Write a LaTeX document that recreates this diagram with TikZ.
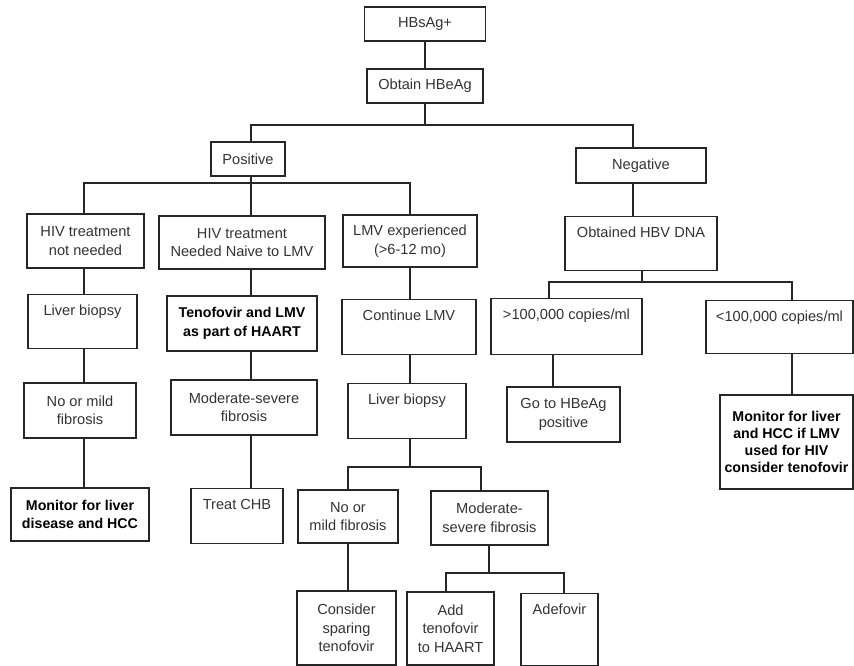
\documentclass[tikz,border=0pt]{standalone}
\usepackage{fontspec}
\setmainfont{Liberation Sans}
\begin{document}
\begin{tikzpicture}[x=1pt,y=-1pt,
  every node/.style={font=\fontsize{14.6}{18.5}\selectfont, text=black!80},
  box/.style={draw=black!85, line width=1.1pt, inner sep=0pt, align=center},
  cbox/.style 2 args={box, minimum width=#1, minimum height=#2},
  tbox/.style 2 args={box, anchor=north, minimum width=#1, text height=21pt, text depth=#2},
  strong/.style={font=\fontsize{14.2}{18.5}\selectfont\bfseries, text=black},
  link/.style={draw=black!85, line width=1.1pt}]
\fill[white] (0,0) rectangle (854,666);
\useasboundingbox (0,0) rectangle (854,666);

% column and bus positions
\coordinate (cA) at (84,0);
\coordinate (cB) at (251,0);
\coordinate (cC) at (410,0);
\coordinate (cE) at (348,0);
\coordinate (cF) at (481,0);
\coordinate (cH) at (446,0);
\coordinate (cI) at (564,0);
\coordinate (cJ) at (633,0);
\coordinate (cL) at (549,0);
\coordinate (cM) at (553,0);
\coordinate (cN) at (792,0);
\coordinate (busA) at (425,125);
\coordinate (busB) at (251,183);
\coordinate (busC) at (410,467);
\coordinate (busD) at (489,573);
\coordinate (busE) at (642,282);

% boxes
\node[cbox={121}{34}] (hbsag) at (425,24) {HBsAg+};
\node[cbox={116}{34}] (obtain) at (425,86) {Obtain HBeAg};
\node[cbox={74}{34}] (pos) at (248,159) {Positive};
\node[cbox={130}{35}] (neg) at (641,165.5) {Negative};

\node[cbox={117}{54}] (hiv1) at (85.5,241) {HIV treatment\\not needed};
\node[cbox={166}{53}] (hiv2) at (242,242.5) {HIV treatment\\Needed Naive to LMV};
\node[cbox={134}{52}] (lmv) at (410,241) {LMV experienced\\(>6-12 mo)};

\node[tbox={109}{33}] (lb1) at (82.5,294) {Liver biopsy};
\node[cbox={150}{55}, strong] (teno) at (242,323.5) {Tenofovir and LMV\\as part of HAART};
\node[tbox={134}{34}] (cont) at (409,299) {Continue LMV};

\node[cbox={112}{55}] (nm1) at (80,410.5) {No or mild\\fibrosis};
\node[cbox={146}{55}] (ms1) at (244,407.5) {Moderate-severe\\fibrosis};
\node[tbox={118}{34}] (lb2) at (407,383) {Liver biopsy};

\node[cbox={138}{53}, strong] (mon1) at (80,514.5) {Monitor for liver\\disease and HCC};
\node[tbox={92}{34}] (chb) at (237,488) {Treat CHB};
\node[cbox={100}{53}] (nm2) at (348,516.5) {No or\\mild fibrosis};
\node[cbox={117}{54}] (ms2) at (489.5,518) {Moderate-\\severe fibrosis};

\node[cbox={99}{74}] (cons) at (346.5,628) {Consider\\sparing\\tenofovir};
\node[cbox={87}{73}] (add) at (450.5,628.5) {Add\\tenofovir\\to HAART};
\node[tbox={77}{51}] (ade) at (559.5,593) {Adefovir};

\node[tbox={152}{33}] (dna) at (641,216) {Obtained HBV DNA};
\node[tbox={151}{35}] (gt) at (566.5,298) {>100,000 copies/ml};
\node[tbox={147}{32}] (lt) at (779.5,300) {<100,000 copies/ml};
\node[cbox={113}{55}] (go) at (563.5,414.5) {Go to HBeAg\\positive};
\node[cbox={133}{94}, strong, font=\fontsize{14.2}{17}\selectfont\bfseries] (mon2) at (786.5,442)
  {Monitor for liver\\and HCC if LMV\\used for HIV\\consider tenofovir};

% connectors
\draw[link] (hbsag.south) -- (obtain.north);
\draw[link] (obtain.south) -- (busA);
\draw[link] (pos.north -| cB) |- (busA) -| (neg.north -| cJ);
\draw[link] (pos.south -| cB) -- (hiv2.north -| cB);
\draw[link] (hiv1.north -| cA) |- (busB) -| (lmv.north -| cC);

\draw[link] (hiv1.south -| cA) -- (lb1.north -| cA);
\draw[link] (lb1.south -| cA) -- (nm1.north -| cA);
\draw[link] (nm1.south -| cA) -- (mon1.north -| cA);

\draw[link] (hiv2.south -| cB) -- (teno.north -| cB);
\draw[link] (teno.south -| cB) -- (ms1.north -| cB);
\draw[link] (ms1.south -| cB) -- (chb.north -| cB);

\draw[link] (lmv.south -| cC) -- (cont.north -| cC);
\draw[link] (cont.south -| cC) -- (lb2.north -| cC);
\draw[link] (lb2.south -| cC) -- (busC);
\draw[link] (nm2.north -| cE) |- (busC) -| (ms2.north -| cF);
\draw[link] (nm2.south -| cE) -- (cons.north -| cE);
\draw[link] (ms2.south -| busD) -- (busD);
\draw[link] (add.north -| cH) |- (busD) -| (ade.north -| cI);

\draw[link] (neg.south -| cJ) -- (dna.north -| cJ);
\draw[link] (dna.south -| busE) -- (busE);
\draw[link] (gt.north -| cL) |- (busE) -| (lt.north -| cN);
\draw[link] (gt.south -| cM) -- (go.north -| cM);
\draw[link] (lt.south -| cN) -- (mon2.north -| cN);
\end{tikzpicture}
\end{document}
